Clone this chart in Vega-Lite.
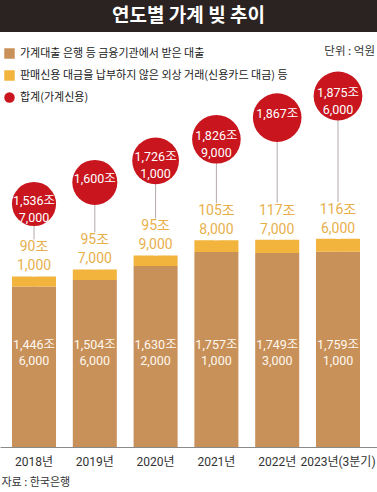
{
  "$schema": "https://vega.github.io/schema/vega-lite/v6.json",
  "padding": 0,
  "spacing": 0,
  "background": "white",
  "config": {"font": "Roboto, Noto Sans CJK KR", "view": {"stroke": null}},
  "datasets": {
    "debt": [
      {"year": 2018, "label": "2018년", "loan": 1446.6, "credit": 90.1, "total": 1536.7, "loanText": "1,446조\n6,000", "creditText": "90조\n1,000", "totalText": "1,536조\n7,000"},
      {"year": 2019, "label": "2019년", "loan": 1504.6, "credit": 95.7, "total": 1600.3, "loanText": "1,504조\n6,000", "creditText": "95조\n7,000", "totalText": "1,600조"},
      {"year": 2020, "label": "2020년", "loan": 1630.2, "credit": 95.9, "total": 1726.1, "loanText": "1,630조\n2,000", "creditText": "95조\n9,000", "totalText": "1,726조\n1,000"},
      {"year": 2021, "label": "2021년", "loan": 1757.1, "credit": 105.8, "total": 1862.9, "loanText": "1,757조\n1,000", "creditText": "105조\n8,000", "totalText": "1,826조\n9,000"},
      {"year": 2022, "label": "2022년", "loan": 1749.3, "credit": 117.7, "total": 1867.0, "loanText": "1,749조\n3,000", "creditText": "117조\n7,000", "totalText": "1,867조"},
      {"year": 2023, "label": "2023년(3분기)", "loan": 1759.1, "credit": 116.6, "total": 1875.7, "loanText": "1,759조\n1,000", "creditText": "116조\n6,000", "totalText": "1,875조\n6,000"}
    ]
  },
  "vconcat": [
    {
      "width": 377,
      "height": 32,
      "view": {"fill": "#2b2321", "stroke": null},
      "data": {"values": [{"t": "연도별 가계 빚 추이"}]},
      "mark": {"type": "text", "color": "white", "font": "Noto Sans CJK KR", "fontSize": 19, "fontWeight": "bold", "baseline": "middle", "align": "center"},
      "encoding": {"text": {"field": "t"}}
    },
    {
      "width": 377,
      "height": 415,
      "data": {"name": "debt"},
      "title": {"text": "단위 : 억원", "orient": "top", "anchor": "end", "offset": -31, "baseline": "middle", "font": "Noto Sans CJK KR", "fontSize": 11.5, "fontWeight": "normal", "color": "#333333", "dx": -2},
      "encoding": {
        "x": {
          "field": "label", "type": "nominal",
          "scale": {"type": "band", "paddingInner": 0.276, "paddingOuter": 0.2385, "align": 0.414},
          "axis": {"title": "자료 : 한국은행", "titleAnchor": "start", "titleAlign": "left", "titleX": 1, "titleY": 35, "titleBaseline": "middle", "titleFont": "Noto Sans CJK KR", "titleFontSize": 11, "titleFontWeight": "normal", "titleColor": "#333333", "labelFontSize": 12, "labelColor": "#333333", "labelPadding": 9, "ticks": false, "domainColor": "#8a8a8a", "labelAngle": 0, "grid": false}
        }
      },
      "layer": [
        {
          "mark": {"type": "rule", "color": "#b3aaa8", "strokeWidth": 1},
          "encoding": {
            "y": {"field": "year", "type": "quantitative", "scale": {"domain": [2006.75, 2025.963], "zero": false, "nice": false}, "axis": null},
            "y2": {"value": "height"}
          }
        },
        {
          "mark": {"type": "bar"},
          "encoding": {
            "y": {"field": "loan", "type": "quantitative", "scale": {"domain": [0, 3740], "nice": false}, "axis": null},
            "color": {
              "datum": "가계대출 은행 등 금융기관에서 받은 대출",
              "scale": {"domain": ["가계대출 은행 등 금융기관에서 받은 대출", "판매신용 대금을 납부하지 않은 외상 거래(신용카드 대금) 등", "합계(가계신용)"], "range": ["#c9915a", "#f2b43d", "#c8151e"]},
              "legend": {
                "orient": "none", "legendX": 4, "legendY": 48, "title": null,
                "symbolSize": 110, "symbolType": "square", "symbolStrokeWidth": 0,
                "labelFont": "Noto Sans CJK KR", "labelFontSize": 11, "labelColor": "#222222", "labelLimit": 400,
                "rowPadding": 10, "labelOffset": 5, "padding": 0,
                "encode": {"symbols": {"update": {"shape": {"signal": "datum.value === '합계(가계신용)' ? 'circle' : 'square'"}}}}
              }
            }
          }
        },
        {
          "mark": {"type": "bar"},
          "encoding": {
            "y": {"field": "total", "type": "quantitative", "scale": {"domain": [0, 3740], "nice": false}, "axis": null},
            "y2": {"field": "loan"},
            "color": {"datum": "판매신용 대금을 납부하지 않은 외상 거래(신용카드 대금) 등"}
          }
        },
        {
          "mark": {"type": "rule", "color": "white", "strokeWidth": 4, "y2Offset": -37},
          "encoding": {
            "y": {"field": "total", "type": "quantitative", "scale": {"domain": [0, 3740], "nice": false}, "axis": null},
            "y2": {"field": "total"}
          }
        },
        {
          "mark": {"type": "text", "color": "#e8b04c", "fontSize": 14, "lineBreak": "\n", "lineHeight": 19, "baseline": "middle", "yOffset": -29},
          "encoding": {
            "y": {"field": "total", "type": "quantitative", "scale": {"domain": [0, 3740], "nice": false}, "axis": null},
            "text": {"field": "creditText"}
          }
        },
        {
          "mark": {"type": "text", "color": "#fff8ee", "fontSize": 12.5, "lineBreak": "\n", "lineHeight": 16, "baseline": "middle", "yOffset": -8},
          "encoding": {
            "y": {"datum": 850, "type": "quantitative", "scale": {"domain": [0, 3740], "nice": false}, "axis": null},
            "text": {"field": "loanText"}
          }
        },
        {
          "mark": {"type": "circle", "opacity": 1},
          "encoding": {
            "y": {"field": "year", "type": "quantitative", "scale": {"domain": [2006.75, 2025.963], "zero": false, "nice": false}, "axis": null},
            "size": {"field": "total", "type": "quantitative", "scale": {"domain": [0, 1875.7], "range": [0, 2376]}, "legend": null},
            "color": {"datum": "합계(가계신용)"}
          }
        },
        {
          "mark": {"type": "text", "color": "white", "fontSize": 12.5, "lineBreak": "\n", "lineHeight": 17, "baseline": "middle", "yOffset": -3.5},
          "encoding": {
            "y": {"field": "year", "type": "quantitative", "scale": {"domain": [2006.75, 2025.963], "zero": false, "nice": false}, "axis": null},
            "text": {"field": "totalText"}
          }
        }
      ],
      "resolve": {"scale": {"y": "independent"}}
    }
  ]
}
